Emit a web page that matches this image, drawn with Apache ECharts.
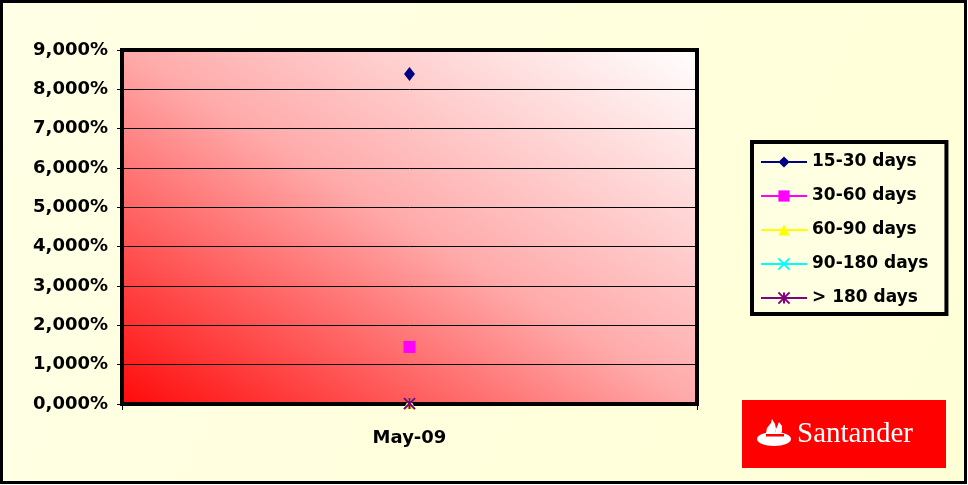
<!DOCTYPE html>
<html><head><meta charset="utf-8">
<script src="https://cdn.jsdelivr.net/npm/echarts@6/dist/echarts.min.js"></script>
<style>html,body{margin:0;padding:0;}#c{width:968px;height:485px;}</style>
</head><body><div id="c"></div>
<script>
const categories = ['May-09'];
const seriesNames = ['15-30 days', '30-60 days', '60-90 days', '90-180 days', '> 180 days'];
const v1530 = [8.39];
const v3060 = [1.45];
const v6090 = [0.02];
const v90180 = [0.01];
const v180 = [0.01];
const yTicks = [0, 1, 2, 3, 4, 5, 6, 7, 8, 9];

const chart = echarts.init(document.getElementById('c'));
const font = '"DejaVu Sans", Verdana, sans-serif';
const crossPath = 'path://M0,0L10,10M10,0L0,10';
const starPath = 'path://M0,0L10,10M10,0L0,10M5,0L5,10';

function mk(name, data, color, symbol, size, stroke) {
  return {
    name: name, type: 'line', data: data, symbol: symbol, symbolSize: size,
    showSymbol: true, z: 5,
    lineStyle: { color: color, width: 1.5 },
    itemStyle: stroke ? { color: color, borderColor: color, borderWidth: 2 } : { color: color, borderColor: color, borderWidth: 0 },
    emphasis: { disabled: true }
  };
}

chart.setOption({
  animation: false,
  backgroundColor: 'transparent',
  graphic: [
    { type: 'rect', z: -10, shape: { x: 1.5, y: 1.5, width: 964, height: 481 },
      style: { fill: { type: 'linear', x: 0, y: 0, x2: 1, y2: 1, colorStops: [
        { offset: 0, color: '#ffffe6' }, { offset: 1, color: '#ffffd6' }] },
        stroke: '#000', lineWidth: 3 } },
    { type: 'rect', z: 10, shape: { x: 742, y: 400, width: 204, height: 68 }, style: { fill: '#ff0000' } },
    { type: 'text', z: 11, x: 797, y: 434, style: { text: 'Santander', fill: '#fff', font: '29px "Liberation Serif", "DejaVu Serif", serif', verticalAlign: 'middle', align: 'left' } },
    { type: 'ellipse', z: 11, shape: { cx: 774, cy: 439, rx: 17, ry: 7 }, style: { fill: '#fff' } },
    { type: 'polygon', z: 11, shape: { points: [[771,437],[766,433],[767,428],[771,423],[772,419],[775,424],[776,429],[774,434]] }, style: { fill: '#fff' } },
    { type: 'polygon', z: 11, shape: { points: [[778,436],[775,431],[777,427],[779,422],[782,426],[782,431],[780,436]] }, style: { fill: '#fff' } },
    { type: 'rect', z: 12, shape: { x: 766, y: 434, width: 18, height: 2.5 }, style: { fill: '#ff0000' } }
  ],
  grid: { left: 122, right: 271, top: 50, bottom: 81, show: true, borderColor: '#000', borderWidth: 4,
    backgroundColor: { type: 'linear', global: true, x: 122, y: 404, x2: 438, y2: -110, colorStops: [
      { offset: 0, color: '#ff0a0a' }, { offset: 0.5, color: '#ffaaaa' }, { offset: 1, color: '#ffffff' }] } },
  legend: {
    orient: 'vertical', left: 752, top: 142,
    data: seriesNames,
    itemWidth: 46, itemHeight: 14, itemGap: 14,
    padding: [10, 18, 6, 8],
    backgroundColor: '#ffffe2', borderColor: '#000', borderWidth: 4,
    textStyle: { fontFamily: font, fontWeight: 'bold', fontSize: 17, lineHeight: 20, color: '#000' },
    selectedMode: false
  },
  xAxis: {
    type: 'category', data: categories, boundaryGap: true,
    axisLine: { show: false },
    axisTick: { show: true, length: 6, lineStyle: { color: '#000', width: 1 } },
    axisLabel: { fontFamily: font, fontWeight: 'bold', fontSize: 18, color: '#000', margin: 25 }
  },
  yAxis: {
    type: 'value', min: 0, max: 9, interval: 1,
    axisLine: { show: false },
    axisTick: { show: true, length: 5, lineStyle: { color: '#000', width: 1 } },
    splitLine: { show: true, lineStyle: { color: '#000', width: 1 } },
    axisLabel: { fontFamily: font, fontWeight: 'bold', fontSize: 18, color: '#000', margin: 14,
      formatter: function (v) { return yTicks.indexOf(v) >= 0 ? v + ',000%' : ''; } }
  },
  series: [
    mk(seriesNames[0], v1530, '#000080', 'diamond', [11, 14], false),
    mk(seriesNames[1], v3060, '#ff00ff', 'rect', 12, false),
    mk(seriesNames[2], v6090, '#ffff00', 'triangle', 12, false),
    mk(seriesNames[3], v90180, '#00ffff', crossPath, 10, true),
    mk(seriesNames[4], v180, '#800080', starPath, 11, true)
  ]
});
</script></body></html>
